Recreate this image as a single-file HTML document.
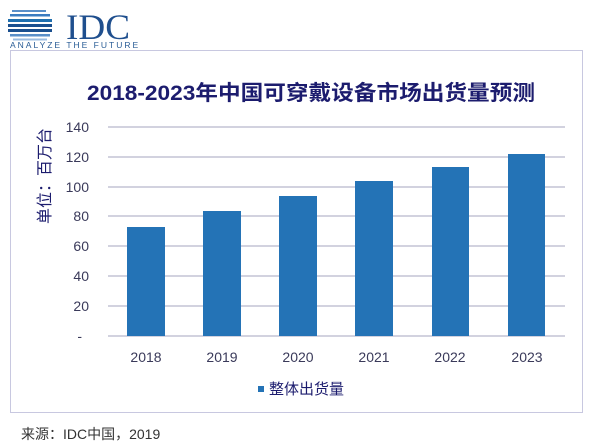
<!DOCTYPE html>
<html><head><meta charset="utf-8"><style>
html,body{margin:0;padding:0;background:#fff;}
svg{display:block;font-family:"Liberation Sans","Noto Sans CJK SC",sans-serif;}
</style></head><body>
<svg width="600" height="448" viewBox="0 0 600 448" xmlns="http://www.w3.org/2000/svg">
<rect width="600" height="448" fill="#fff"/>
<g fill="#1f6fae">
<rect x="12" y="10" width="34" height="2" fill="#5a8fc8"/>
<rect x="10" y="14" width="40" height="2.5" fill="#3b7cc0"/>
<rect x="8" y="19" width="44" height="3"/>
<rect x="8" y="24" width="44" height="3" fill="#1a4f8e"/>
<rect x="8" y="29" width="44" height="3" fill="#1a4f8e"/>
<rect x="10" y="34" width="40" height="2.5" fill="#5a8fc8"/>
<rect x="13" y="38.5" width="34" height="2" fill="#9bbce0"/>
</g>
<text x="66" y="39" font-family="Liberation Serif,serif" font-size="36" fill="#1f4f8e" textLength="64" lengthAdjust="spacingAndGlyphs">IDC</text>
<text x="10" y="48" font-size="8.5" letter-spacing="2" fill="#2a5d96">ANALYZE THE FUTURE</text>
<rect x="10.5" y="50.5" width="572" height="362" fill="#fff" stroke="#c8c8e0" stroke-width="1"/>
<text x="311" y="100" text-anchor="middle" font-size="21" font-weight="bold" fill="#1c1c6e" textLength="448" lengthAdjust="spacingAndGlyphs">2018-2023年中国可穿戴设备市场出货量预测</text>
<g stroke="#b8b8cc" stroke-width="1.2">
<line x1="108" x2="565" y1="127" y2="127"/>
<line x1="108" x2="565" y1="157" y2="157"/>
<line x1="108" x2="565" y1="187" y2="187"/>
<line x1="108" x2="565" y1="216" y2="216"/>
<line x1="108" x2="565" y1="246" y2="246"/>
<line x1="108" x2="565" y1="276" y2="276"/>
<line x1="108" x2="565" y1="306" y2="306"/>
<line x1="108" x2="565" y1="336" y2="336"/>
</g>
<g font-size="14" fill="#3a3a5a" text-anchor="end">
<text x="89" y="132">140</text><text x="89" y="162">120</text><text x="89" y="192">100</text>
<text x="89" y="221">80</text><text x="89" y="251">60</text><text x="89" y="281">40</text>
<text x="89" y="311">20</text><text x="82" y="341">-</text>
</g>
<text transform="translate(50,176) rotate(-90)" text-anchor="middle" font-size="16" fill="#1c1c6e">单位：百万台</text>
<g fill="#2473b6">
<rect x="127" y="227" width="38" height="109"/>
<rect x="203" y="211" width="38" height="125"/>
<rect x="279" y="196" width="38" height="140"/>
<rect x="355" y="181" width="38" height="155"/>
<rect x="432" y="167" width="37" height="169"/>
<rect x="508" y="154" width="37" height="182"/>
</g>
<g font-size="14" fill="#3a3a5a" text-anchor="middle">
<text x="146" y="362">2018</text><text x="222" y="362">2019</text><text x="298" y="362">2020</text>
<text x="374" y="362">2021</text><text x="450" y="362">2022</text><text x="527" y="362">2023</text>
</g>
<rect x="258" y="386" width="6" height="6" fill="#2473b6"/>
<text x="269" y="394" font-size="15" fill="#1c1c6e">整体出货量</text>
<text x="21" y="439" font-size="14" fill="#333">来源：IDC中国，2019</text>
</svg>
</body></html>
